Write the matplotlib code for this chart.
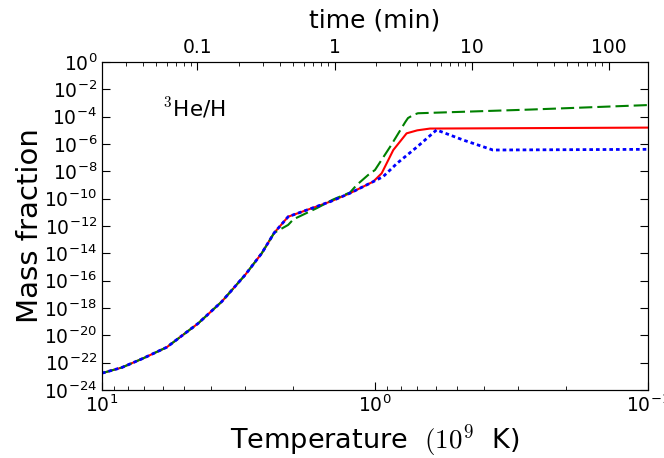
import matplotlib
matplotlib.use("Agg")
import matplotlib.pyplot as plt
import numpy as np
from matplotlib.ticker import FixedLocator, LogFormatterMathtext, NullLocator, FuncFormatter

plt.rcParams['mathtext.fontset'] = 'cm'
plt.rcParams['axes.unicode_minus'] = False
plt.rcParams['lines.scale_dashes'] = False

# temperature (10^9 K) and log10 of mass fraction
temp_common = [10.0, 8.47, 7.06, 5.79, 4.44, 3.64, 2.99, 2.60, 2.34]
logy_common = [-22.77, -22.36, -21.68, -20.87, -19.12, -17.53, -15.58, -14.0, -12.5]

temp_red = [2.08, 1.46, 1.235, 1.014, 0.945, 0.857, 0.766, 0.70, 0.629, 0.1]
logy_red = [-11.32, -10.22, -9.6, -8.75, -8.14, -6.44, -5.22, -5.0, -4.87, -4.8]

temp_blue = [2.08, 1.46, 1.235, 1.014, 0.934, 0.83, 0.70, 0.595, 0.475, 0.37, 0.1]
logy_blue = [-11.32, -10.22, -9.6, -8.75, -8.39, -7.41, -6.2, -4.97, -5.71, -6.44, -6.39]

temp_green = [2.08, 1.99, 1.636, 1.42, 1.235, 1.167, 1.06, 1.0, 0.88, 0.775, 0.757, 0.72, 0.696, 0.27, 0.1]
logy_green = [-11.92, -11.51, -10.7, -10.05, -9.55, -9.0, -8.27, -7.9, -6.2, -4.4, -4.1, -3.85, -3.75, -3.48, -3.15]

time_ticks = [0.1, 1, 10, 100]
time_range = (0.0201, 194)


def series(t_tail, y_tail):
    t = np.array(temp_common + t_tail)
    y = 10.0 ** np.array(logy_common + y_tail)
    return t, y


fig = plt.figure(figsize=(6.64, 4.58), dpi=100)
ax = fig.add_axes([0.1536, 0.1485, 0.8223, 0.7161])

t, y = series(temp_red, logy_red)
ax.plot(t, y, color='r', lw=1.5)
t, y = series(temp_green, logy_green)
ax.plot(t, y, color='g', lw=1.5, dashes=(9.5, 3.6))
t, y = series(temp_blue, logy_blue)
ax.plot(t, y, color='b', lw=2.0, dashes=(2.6, 2.2))

ax.set_xscale('log')
ax.set_yscale('log')
ax.set_xlim(10, 0.1)
ax.set_ylim(1e-24, 1)
ax.yaxis.set_major_locator(FixedLocator(10.0 ** np.arange(-24, 1, 2)))
ax.yaxis.set_major_formatter(LogFormatterMathtext())
ax.yaxis.set_minor_locator(NullLocator())
ax.tick_params(which='both', direction='in', top=False, right=True, labelsize=13.5)
ax.tick_params(which='major', length=6)
ax.tick_params(which='minor', length=3)

ax.set_xlabel(r'Temperature  $(10^9$  K)', fontsize=19.5, labelpad=4)
ax.set_ylabel('Mass fraction', fontsize=21, labelpad=0)
ax.text(0.111, 0.835, r'$^3$He/H', transform=ax.transAxes, fontsize=15.5)

top = ax.twiny()
top.set_xscale('log')
top.set_xlim(*time_range)
top.xaxis.set_major_locator(FixedLocator(time_ticks))
top.xaxis.set_major_formatter(FuncFormatter(lambda v, p: f"{v:g}"))
top.tick_params(which='both', direction='in', labelsize=13.5)
top.tick_params(which='major', length=6)
top.tick_params(which='minor', length=3)
top.set_xlabel('time (min)', fontsize=18, labelpad=8)

fig.savefig('out.png', dpi=100, facecolor='white')
